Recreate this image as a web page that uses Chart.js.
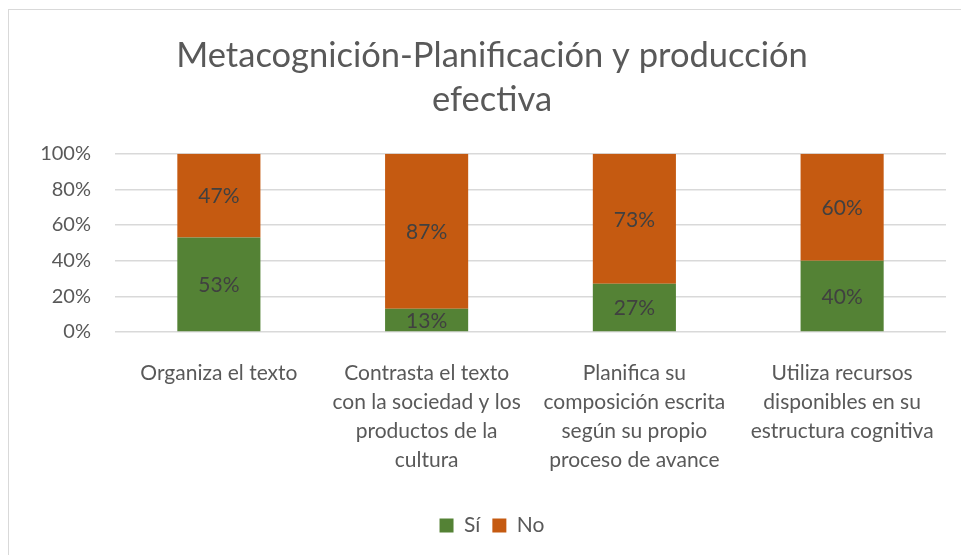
<!DOCTYPE html>
<html><head><meta charset="utf-8">
<script src="https://cdn.jsdelivr.net/npm/chart.js@4"></script>
<style>
html,body{margin:0;padding:0;background:#fff;}
#wrap{position:relative;width:961px;height:555px;}
#frame{position:absolute;left:8px;top:9px;right:0;bottom:0;border-left:1px solid #d9d9d9;border-top:1px solid #d9d9d9;pointer-events:none;}
</style></head>
<body><div id="wrap"><canvas id="c" width="961" height="555"></canvas><div id="frame"></div></div>
<script>
const categories = [
  ["Organiza el texto"],
  ["Contrasta el texto","con la sociedad y los","productos de la","cultura"],
  ["Planifica su","composición escrita","según su propio","proceso de avance"],
  ["Utiliza recursos","disponibles en su","estructura cognitiva"]
];
const siValues = [53, 13, 27, 40];
const noValues = [47, 87, 73, 60];
const yTicks = [0, 20, 40, 60, 80, 100];
const titleLines = ["Metacognición-Planificación y producción", "efectiva"];
const FONT = "Lato, 'Open Sans', sans-serif";

const labelPlugin = {
  id: 'barLabels',
  afterDatasetsDraw(chart) {
    const ctx = chart.ctx;
    ctx.save();
    ctx.font = "21px " + FONT;
    ctx.fillStyle = "#404040";
    ctx.textAlign = "center";
    ctx.textBaseline = "middle";
    chart.data.datasets.forEach((ds, di) => {
      chart.getDatasetMeta(di).data.forEach((bar, i) => {
        const p = bar.getProps(['x','y','base'], true);
        ctx.fillText(ds.data[i] + "%", p.x, (p.y + p.base) / 2 + 1);
      });
    });
    ctx.restore();
  }
};

new Chart(document.getElementById('c'), {
  type: 'bar',
  data: {
    labels: categories,
    datasets: [
      { label: 'Sí', data: siValues, backgroundColor: '#548235', borderWidth: 0, categoryPercentage: 0.4, barPercentage: 1 },
      { label: 'No', data: noValues, backgroundColor: '#C55A11', borderWidth: 0, categoryPercentage: 0.4, barPercentage: 1 }
    ]
  },
  options: {
    responsive: false,
    animation: false,
    devicePixelRatio: 1,
    layout: { padding: { left: 38, right: 15, top: 33, bottom: 9 } },
    plugins: {
      title: {
        display: true, text: titleLines, color: '#595959',
        font: { family: FONT, size: 34.5, weight: 'normal', lineHeight: 1.3 },
        padding: { top: 0, bottom: 31 }
      },
      legend: {
        position: 'bottom',
        labels: { color: '#595959', font: { family: FONT, size: 21 }, boxWidth: 14, boxHeight: 14, padding: 12 }
      },
      tooltip: { enabled: false }
    },
    scales: {
      x: {
        stacked: true,
        afterFit(s) { s.height = 171; },
        grid: { display: false },
        border: { display: false },
        ticks: { color: '#595959', font: { family: FONT, size: 21, lineHeight: 1.38 }, maxRotation: 0, autoSkip: false, padding: 19 }
      },
      y: {
        stacked: true, min: 0, max: 100,
        afterFit(s) { s.width = 77; },
        grid: { color: '#d9d9d9', lineWidth: 1.5, drawTicks: false },
        border: { display: false },
        ticks: { stepSize: 20, color: '#595959', font: { family: FONT, size: 20 }, padding: 24, callback: v => yTicks.includes(v) ? v + '%' : '' }
      }
    }
  },
  plugins: [labelPlugin]
});
</script></body></html>
